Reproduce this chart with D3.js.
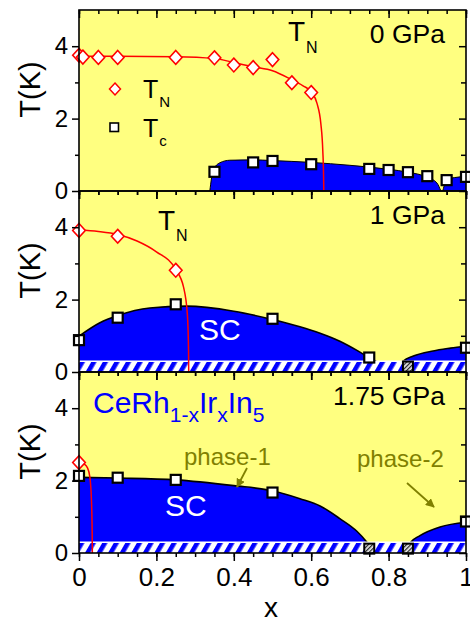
<!DOCTYPE html>
<html>
<head>
<meta charset="utf-8">
<script src="https://cdn.jsdelivr.net/npm/d3@7"></script>
<style>
  body { margin: 0; background: #fff; }
  svg { display: block; }
  text { font-family: "Liberation Sans", Arial, Helvetica, sans-serif; }
</style>
</head>
<body>
<svg id="chart" width="470" height="622"></svg>
<script>
// ---- Axis ticks and labels ----
const xTickVals = [0, 0.2, 0.4, 0.6, 0.8, 1.0];
const xTickLabels = ["0", "0.2", "0.4", "0.6", "0.8", "1"];
const yTickVals = [0, 2, 4];
const yTickLabels = ["0", "2", "4"];
const yMinorVals = [1, 3];
const pressures = ["0 GPa", "1 GPa", "1.75 GPa"];

// ---- 0 GPa ----
const tn0 = [[0, 3.75], [0.01, 3.70], [0.05, 3.69], [0.10, 3.69], [0.25, 3.69], [0.35, 3.68],
             [0.40, 3.48], [0.45, 3.41], [0.50, 3.63], [0.55, 2.99], [0.60, 2.72]];
const tnFit0 = [[0, 3.72], [0.10, 3.72], [0.25, 3.71], [0.35, 3.66], [0.40, 3.55], [0.45, 3.43],
                [0.50, 3.32], [0.55, 3.07], [0.58, 2.90], [0.60, 2.74], [0.615, 2.42], [0.625, 1.85],
                [0.630, 1.10], [0.632, 0.40], [0.6325, 0]];
const tc0 = [[0.35, 0.53], [0.45, 0.79], [0.50, 0.83], [0.60, 0.74], [0.75, 0.61], [0.80, 0.58],
             [0.85, 0.52], [0.90, 0.41], [0.95, 0.30], [1.00, 0.39]];
const tcLow0 = [];
const sc0 = [
  [[0.338, 0], [0.347, 0.58], [0.364, 0.78], [0.39, 0.85], [0.45, 0.86], [0.50, 0.84], [0.60, 0.79],
   [0.70, 0.71], [0.75, 0.66], [0.80, 0.60], [0.85, 0.52], [0.90, 0.38], [0.925, 0.22], [0.935, 0]],
  [[0.940, 0], [0.946, 0.22], [0.955, 0.33], [0.97, 0.37], [1.00, 0.40]]
];

// ---- 1 GPa ----
const tn1 = [[0, 3.91], [0.10, 3.75], [0.25, 2.81]];
const tnFit1 = [[0, 3.92], [0.05, 3.88], [0.10, 3.80], [0.15, 3.62], [0.20, 3.32], [0.25, 2.83],
                [0.27, 2.35], [0.28, 1.60], [0.283, 0.60], [0.2835, 0]];
const tc1 = [[0, 0.88], [0.10, 1.50], [0.25, 1.87], [0.50, 1.47], [0.75, 0.40], [1.00, 0.67]];
const tcLow1 = [[0.85, 0.15]];
const sc1 = [
  [[0, 0.99], [0.054, 1.36], [0.10, 1.56], [0.183, 1.77], [0.278, 1.82], [0.40, 1.68], [0.50, 1.45],
   [0.571, 1.25], [0.623, 1.07], [0.674, 0.85], [0.726, 0.55], [0.75, 0.40], [0.77, 0.28], [0.79, 0.15]],
  [[0.830, 0.15], [0.838, 0.30], [0.864, 0.44], [0.915, 0.58], [0.96, 0.66], [1.00, 0.72]]
];

// ---- 1.75 GPa ----
const tn175 = [[0, 2.50]];
const tnFit175 = [[0, 2.52], [0.012, 2.47], [0.022, 2.35], [0.028, 2.10], [0.032, 1.50],
                  [0.034, 0.60], [0.0345, 0]];
const tc175 = [[0, 2.13], [0.10, 2.08], [0.25, 2.02], [0.50, 1.67], [1.00, 0.87]];
const tcLow175 = [[0.75, 0.12], [0.85, 0.12]];
const sc175 = [
  [[0, 2.09], [0.10, 2.07], [0.25, 2.02], [0.40, 1.86], [0.50, 1.72], [0.571, 1.50], [0.623, 1.30],
   [0.674, 0.95], [0.718, 0.60], [0.744, 0.30], [0.755, 0.15], [0.762, 0.05]],
  [[0.848, 0.10], [0.855, 0.27], [0.881, 0.48], [0.933, 0.72], [1.00, 0.85]]
];

const panels = [
  { p: pressures[0], tn: tn0, tnFit: tnFit0, tc: tc0, tcLow: tcLow0, sc: sc0, band: false },
  { p: pressures[1], tn: tn1, tnFit: tnFit1, tc: tc1, tcLow: tcLow1, sc: sc1, band: true },
  { p: pressures[2], tn: tn175, tnFit: tnFit175, tc: tc175, tcLow: tcLow175, sc: sc175, band: true }
];

// ---- Layout ----
const YELLOW = "#ffff80", BLUE = "#0000ff", RED = "#ff0000", OLIVE = "#808000";
const left = 79, right = 466;
const panelTops = [10, 191, 372];
const panelH = 181;
const bandTop = 0.3;
const sq = 10;            // square marker side
const dia = [6.3, 6.9];   // diamond half-width, half-height

const svg = d3.select("#chart");
const x = d3.scaleLinear().domain([0, 1]).range([left, right]);

const defs = svg.append("defs");
const stripes = defs.append("pattern").attr("id", "stripes")
  .attr("patternUnits", "userSpaceOnUse").attr("width", 10).attr("height", 10)
  .attr("patternTransform", "rotate(30)");
stripes.append("rect").attr("width", 10).attr("height", 10).attr("fill", "#fff");
stripes.append("rect").attr("width", 4.6).attr("height", 10).attr("fill", BLUE);

const hatch = defs.append("pattern").attr("id", "hatch")
  .attr("patternUnits", "userSpaceOnUse").attr("width", 3).attr("height", 3)
  .attr("patternTransform", "rotate(45)");
hatch.append("rect").attr("width", 3).attr("height", 3).attr("fill", "#e8e8e8");
hatch.append("rect").attr("width", 1.2).attr("height", 3).attr("fill", "#222");

const diamondPath = `M0,${-dia[1]}L${dia[0]},0L0,${dia[1]}L${-dia[0]},0Z`;

const yScales = panelTops.map(t => d3.scaleLinear().domain([0, 5]).range([t + panelH, t]));

panels.forEach((pd, i) => {
  defs.append("clipPath").attr("id", "clip" + i)
    .append("rect").attr("x", left).attr("y", panelTops[i]).attr("width", right - left).attr("height", panelH);
  svg.append("rect").attr("x", left).attr("y", panelTops[i]).attr("width", right - left)
    .attr("height", panelH).attr("fill", YELLOW);
});

panels.forEach((pd, i) => {
  const y = yScales[i];
  const g = svg.append("g").attr("clip-path", `url(#clip${i})`);

  const area = d3.area().x(d => x(d[0])).y0(y(0)).y1(d => y(d[1])).curve(d3.curveMonotoneX);
  const line = d3.line().x(d => x(d[0])).y(d => y(d[1])).curve(d3.curveMonotoneX);

  pd.sc.forEach(dome => {
    g.append("path").attr("d", area(dome)).attr("fill", BLUE);
    g.append("path").attr("d", line(dome)).attr("fill", "none")
      .attr("stroke", "#000").attr("stroke-width", i === 0 ? 1 : 1.6);
  });

  if (pd.band) {
    g.append("rect").attr("x", x(0)).attr("y", y(bandTop)).attr("width", x(1) - x(0))
      .attr("height", y(0) - y(bandTop)).attr("fill", "url(#stripes)");
    g.append("line").attr("x1", x(0)).attr("x2", x(1)).attr("y1", y(bandTop)).attr("y2", y(bandTop))
      .attr("stroke", "#fff").attr("stroke-width", 1.5);
  }

  g.append("path").attr("d", line(pd.tnFit)).attr("fill", "none")
    .attr("stroke", RED).attr("stroke-width", 1.5);

  // markers are left unclipped so points at x = 1 overhang the frame
  svg.append("g").selectAll("path").data(pd.tn).join("path")
    .attr("transform", d => `translate(${x(d[0])},${y(d[1])})`)
    .attr("d", diamondPath)
    .attr("fill", "#fff").attr("stroke", RED).attr("stroke-width", 1.6);

  svg.append("g").selectAll("rect").data(pd.tc).join("rect")
    .attr("x", d => x(d[0]) - sq / 2).attr("y", d => y(d[1]) - sq / 2)
    .attr("width", sq).attr("height", sq)
    .attr("fill", "#fff").attr("stroke", "#000").attr("stroke-width", 2.2);

  svg.append("g").selectAll("rect").data(pd.tcLow).join("rect")
    .attr("x", d => x(d[0]) - sq / 2).attr("y", d => y(d[1]) - sq / 2)
    .attr("width", sq).attr("height", sq)
    .attr("fill", "url(#hatch)").attr("stroke", "#000").attr("stroke-width", 2);

  // pressure label
  svg.append("text").attr("x", 445).attr("y", panelTops[i] + 33).attr("text-anchor", "end")
    .attr("font-size", 26.5).attr("fill", "#000").text(pd.p);

  // y axis title
  svg.append("text").attr("transform", `translate(40,${panelTops[i] + panelH / 2 - 11}) rotate(-90)`)
    .attr("text-anchor", "middle").attr("font-size", 29).text("T(K)");
});

// ---- Axes ----
const xMinor = d3.range(0, 1.0001, 0.05);
panels.forEach((pd, i) => {
  const y = yScales[i];
  const top = panelTops[i], bottom = top + panelH;
  const last = i === panels.length - 1;
  const style = g => {
    g.select(".domain").remove();
    g.selectAll("line").attr("stroke", "#000").attr("stroke-width", 1.5);
  };

  svg.append("g").attr("transform", `translate(0,${bottom})`)
    .call(d3.axisBottom(x).tickValues(xMinor).tickSize(4).tickFormat("")).call(style);
  const bx = svg.append("g").attr("transform", `translate(0,${bottom})`)
    .call(d3.axisBottom(x).tickValues(xTickVals).tickSize(8).tickPadding(7)
      .tickFormat((d, k) => last ? xTickLabels[k] : ""))
    .call(style);
  bx.selectAll("text").attr("font-size", 26).attr("fill", "#000")
    .attr("font-family", '"Liberation Sans", Arial, sans-serif');

  svg.append("g").attr("transform", `translate(0,${top})`)
    .call(d3.axisTop(x).tickValues(xMinor).tickSize(-4).tickFormat("")).call(style);
  svg.append("g").attr("transform", `translate(0,${top})`)
    .call(d3.axisTop(x).tickValues(xTickVals).tickSize(-8).tickFormat("")).call(style);

  const ly = svg.append("g").attr("transform", `translate(${left},0)`)
    .call(d3.axisLeft(y).tickValues(yTickVals).tickSize(7).tickPadding(4)
      .tickFormat((d, k) => yTickLabels[k]))
    .call(style);
  ly.selectAll("text").attr("font-size", 24).attr("fill", "#000")
    .attr("font-family", '"Liberation Sans", Arial, sans-serif');
  svg.append("g").attr("transform", `translate(${left},0)`)
    .call(d3.axisLeft(y).tickValues(yMinorVals).tickSize(4).tickFormat("")).call(style);

  svg.append("g").attr("transform", `translate(${right},0)`)
    .call(d3.axisRight(y).tickValues(yTickVals).tickSize(-7).tickFormat("")).call(style);
  svg.append("g").attr("transform", `translate(${right},0)`)
    .call(d3.axisRight(y).tickValues(yMinorVals).tickSize(-5).tickFormat("")).call(style);

  svg.append("rect").attr("x", left).attr("y", top).attr("width", right - left).attr("height", panelH)
    .attr("fill", "none").attr("stroke", "#000").attr("stroke-width", 1.6);
});

svg.append("text").attr("x", 271).attr("y", 617).attr("text-anchor", "middle")
  .attr("font-size", 28).text("x");

// ---- Annotations ----
function subLabel(xp, yp, main, sub, size, subSize, dy, color) {
  const t = svg.append("text").attr("x", xp).attr("y", yp).attr("fill", color || "#000");
  t.append("tspan").attr("font-size", size).text(main);
  t.append("tspan").attr("font-size", subSize).attr("dy", dy).attr("dx", 1).text(sub);
  return t;
}
subLabel(288, 41, "T", "N", 28, 16, 12);
subLabel(158, 230, "T", "N", 28, 16, 11);

// legend
svg.append("path").attr("transform", `translate(115,89)`).attr("d", "M0,-6L5.5,0L0,6L-5.5,0Z")
  .attr("fill", "#fff").attr("stroke", RED).attr("stroke-width", 1.5);
svg.append("rect").attr("x", 110).attr("y", 123).attr("width", 8.5).attr("height", 8.5)
  .attr("fill", "#fff").attr("stroke", "#000").attr("stroke-width", 1.6);
subLabel(143, 98, "T", "N", 25, 15, 9);
subLabel(143, 136.5, "T", "c", 25, 15, 9);

// SC labels
svg.append("text").attr("x", 199).attr("y", 340).attr("font-size", 30).attr("fill", "#fff").text("SC");
svg.append("text").attr("x", 165).attr("y", 516).attr("font-size", 30).attr("fill", "#fff").text("SC");

// compound formula
const f = svg.append("text").attr("x", 93).attr("y", 413).attr("fill", BLUE);
f.append("tspan").attr("font-size", 30).text("CeRh");
f.append("tspan").attr("font-size", 21).attr("dy", 9).text("1-x");
f.append("tspan").attr("font-size", 30).attr("dy", -9).text("Ir");
f.append("tspan").attr("font-size", 21).attr("dy", 9).text("x");
f.append("tspan").attr("font-size", 30).attr("dy", -9).text("In");
f.append("tspan").attr("font-size", 21).attr("dy", 9).text("5");

// phase annotations
svg.append("text").attr("x", 184).attr("y", 465).attr("font-size", 24).attr("fill", OLIVE).text("phase-1");
svg.append("text").attr("x", 357).attr("y", 467).attr("font-size", 24).attr("fill", OLIVE).text("phase-2");

defs.append("marker").attr("id", "arrow").attr("viewBox", "0 0 10 10").attr("refX", 9).attr("refY", 5)
  .attr("markerWidth", 9).attr("markerHeight", 9).attr("markerUnits", "userSpaceOnUse")
  .attr("orient", "auto")
  .append("path").attr("d", "M0,0L10,5L0,10Z").attr("fill", OLIVE);

svg.append("line").attr("x1", 247).attr("y1", 468).attr("x2", 237).attr("y2", 487)
  .attr("stroke", OLIVE).attr("stroke-width", 1.8).attr("marker-end", "url(#arrow)");
svg.append("line").attr("x1", 407).attr("y1", 483).attr("x2", 434).attr("y2", 507)
  .attr("stroke", OLIVE).attr("stroke-width", 1.8).attr("marker-end", "url(#arrow)");
</script>
</body>
</html>
